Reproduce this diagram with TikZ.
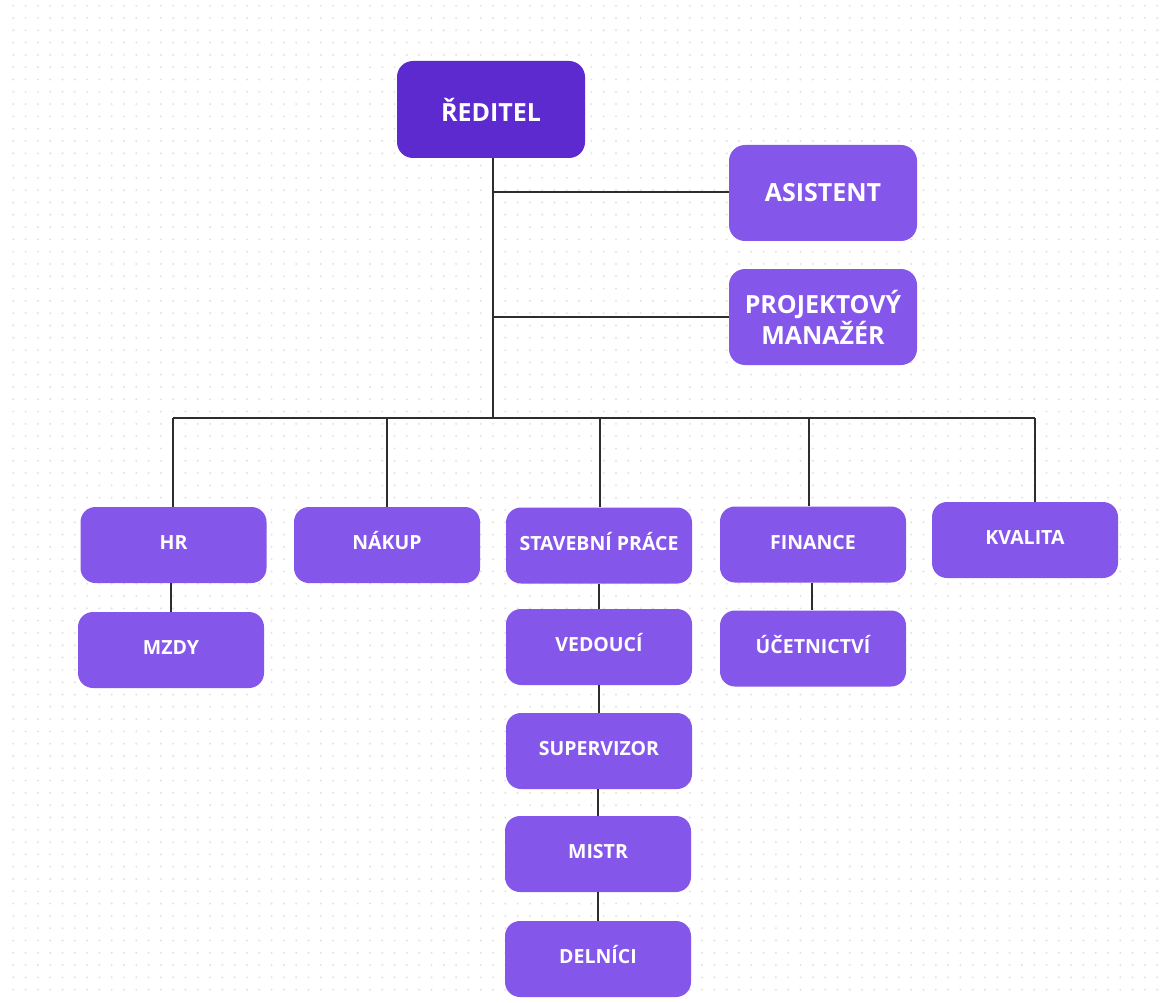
\documentclass[tikz,border=0pt]{standalone}
\usepackage{fontspec}
\setmainfont{Open Sans}
\usetikzlibrary{patterns.meta}
\definecolor{topc}{RGB}{93,42,207}
\definecolor{boxc}{RGB}{132,86,234}
\definecolor{dotc}{RGB}{226,226,226}
\definecolor{linec}{RGB}{45,45,45}
\tikzset{
  bigbox/.style={draw=none, fill=boxc, rounded corners=16pt, minimum width=188pt, minimum height=96pt, inner sep=0pt, align=center, text=white, font=\bfseries\fontsize{25}{31}\selectfont},
  topbox/.style={bigbox, fill=topc, minimum height=97pt},
  smallbox/.style={draw=none, fill=boxc, rounded corners=15pt, minimum width=186pt, minimum height=76pt, inner sep=0pt, align=center, text=white, font=\bfseries\fontsize{19.5}{23}\selectfont, text height=14pt, text depth=5pt},
  conn/.style={draw=linec, line width=1.6pt}
}
\begin{document}
\begin{tikzpicture}[x=1pt,y=-1pt]
\useasboundingbox (0,0) rectangle (1170,1003);
\fill[white] (0,0) rectangle (1170,1003);
\fill[pattern={Dots[distance=12.3pt,radius=1.1pt,xshift=1pt,yshift=1pt]}, pattern color=dotc] (6,6) rectangle (1168,1000);

% nodes
\node[topbox] (red) at (491,109.5) {ŘEDITEL};
\node[bigbox] (asi) at (823,193) {ASISTENT};
\node[bigbox] (pm) at (823,317) {PROJEKTOVÝ\\MANAŽÉR};

\node[smallbox] (hr) at (173.5,545) {HR};
\node[smallbox] (mzdy) at (171,650) {MZDY};
\node[smallbox] (nakup) at (387,545) {NÁKUP};
\node[smallbox] (stav) at (599,545.5) {STAVEBNÍ PRÁCE};
\node[smallbox] (ved) at (599,647) {VEDOUCÍ};
\node[smallbox] (sup) at (599,751) {SUPERVIZOR};
\node[smallbox] (mistr) at (598,854) {MISTR};
\node[smallbox] (del) at (598,959) {DELNÍCI};
\node[smallbox] (fin) at (813,544.5) {FINANCE};
\node[smallbox] (uct) at (813,648.5) {ÚČETNICTVÍ};
\node[smallbox] (kval) at (1025,540) {KVALITA};

% connectors
\coordinate (bus) at (493,418);
\coordinate (busL) at (173,418);
\coordinate (busR) at (1035,418);
\coordinate (tA) at (493,192);
\coordinate (tP) at (493,317);
\draw[conn] ([xshift=2pt]red.south) -- (bus);
\draw[conn] (tA) -- (tA -| asi.west);
\draw[conn] (tP) -- (tP -| pm.west);
\draw[conn] (busL) -- (busR);
\draw[conn] (busL) -- (busL |- hr.north);
\draw[conn] (nakup.north) -- (nakup.north |- bus);
\draw[conn] ([xshift=1pt]stav.north) -- ([xshift=1pt]stav.north |- bus);
\draw[conn] ([xshift=-4pt]fin.north) -- ([xshift=-4pt]fin.north |- bus);
\draw[conn] (busR) -- (busR |- kval.north);
\draw[conn] (hr.south -| mzdy.north) -- (mzdy.north);
\draw[conn] (stav.south) -- (ved.north);
\draw[conn] (ved.south) -- (ved.south |- sup.north);
\draw[conn] (sup.south -| mistr.north) -- (mistr.north);
\draw[conn] (mistr.south) -- (del.north);
\draw[conn] ([xshift=-1pt]fin.south) -- ([xshift=-1pt]uct.north);
\end{tikzpicture}
\end{document}
